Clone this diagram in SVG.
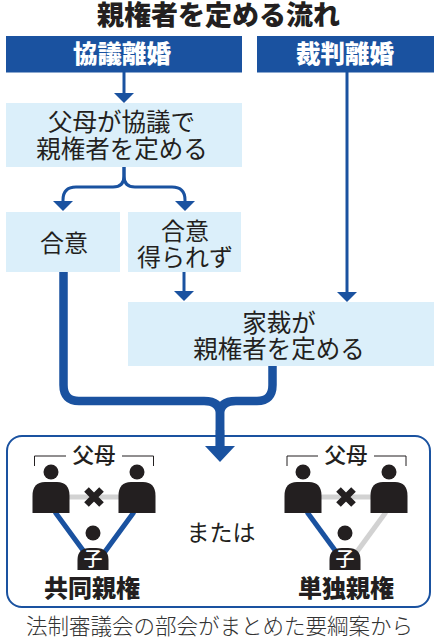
<svg xmlns="http://www.w3.org/2000/svg" width="440" height="640" viewBox="0 0 440 640">
<style>
text{font-family:"Noto Sans CJK JP","Noto Sans CJK SC",sans-serif;text-anchor:middle;fill:#231f20}
.b{fill:#dbeffa}
.h{fill:#1a52a0}
.ht{fill:#fff;font-size:24.500px;font-weight:900}
.t{font-size:24.500px}
.c{fill:none;stroke:#1a52a0;stroke-linejoin:round}
.p{fill:#231f20}
.gl{stroke:#d2d2d2;stroke-width:5;fill:none}
.bl{stroke:#1a52a0;stroke-width:5;fill:none}
.br{stroke:#231f20;stroke-width:1;fill:none}
.x{stroke:#231f20;stroke-width:6.500;fill:none}
.pa{font-size:21.500px;font-weight:500}
.ch{font-size:19px;font-weight:500;fill:#fff}
.nm{font-size:24px;font-weight:900}
</style>
<defs>
<g id="person"><circle cx="0" cy="-45" r="7.500"/><path d="M-18.500 -4V-21Q-18.500 -35-6-35H6Q18.500 -35 18.500 -21V-4Z"/></g>
<g id="child"><circle cx="0" cy="-37" r="7.500"/><path d="M-15.500 0V-10Q-15.500 -22-3-22H3Q15.500 -22 15.500 -10V0Z"/></g>
</defs>
<rect width="440" height="640" fill="#fff"/>
<text x="218.500" y="25" style="font-size:27px;font-weight:900">親権者を定める流れ</text>

<g id="connectors">
<path class="c" stroke-width="3" d="M124 72V96"/>
<path class="h" d="M114 93H134L124 103Z"/>
<path class="c" stroke-width="3" d="M347 72V293"/>
<path class="h" d="M337 292H357L347 302Z"/>
<path class="c" stroke-width="3" d="M124 167V176Q124 187 113 187H76Q63 187 63 200V204"/>
<path class="c" stroke-width="3" d="M124 167V176Q124 187 135 187H172Q185 187 185 200V204"/>
<path class="h" d="M53 201H73L63 211Z"/>
<path class="h" d="M175 201H195L185 211Z"/>
<path class="c" stroke-width="3" d="M184 272V294"/>
<path class="h" d="M174 291H194L184 301Z"/>
<path class="c" stroke-width="8.500" d="M63.500 272V385Q63.500 401 79 401H204Q220 401 220 414V448"/>
<path class="c" stroke-width="8.500" d="M272.500 366V385Q272.500 401 257 401H236Q220 401 220 414V448"/>
</g>

<g id="node-kyogi"><rect class="h" x="6" y="36" width="236" height="36.500"/><text class="ht" x="122" y="63">協議離婚</text></g>
<g id="node-saiban"><rect class="h" x="257" y="36" width="177" height="36.500"/><text class="ht" x="345" y="63">裁判離婚</text></g>
<g id="node-fubo"><rect class="b" x="6" y="103" width="236" height="64"/><text class="t"><tspan x="121.500" y="131">父母が協議で</tspan><tspan x="122" y="158">親権者を定める</tspan></text></g>
<g id="node-goi"><rect class="b" x="6" y="212" width="114" height="60"/><text class="t" x="64" y="252" style="font-size:24px">合意</text></g>
<g id="node-goiezu"><rect class="b" x="128" y="212" width="113" height="60"/><text class="t" style="font-size:24px"><tspan x="185" y="240">合意</tspan><tspan x="185" y="266">得られず</tspan></text></g>
<g id="node-kasai"><rect class="b" x="128" y="302" width="306" height="64"/><text class="t"><tspan x="279" y="332">家裁が</tspan><tspan x="279" y="358">親権者を定める</tspan></text></g>

<g id="node-result">
<rect x="7" y="436" width="423" height="171" rx="15" ry="15" fill="none" stroke="#1a52a0" stroke-width="2"/>
<path class="h" d="M215.750 430H224.250V446H235L220 462L205 446H215.750Z"/>
<text x="221" y="541" style="font-size:23px">または</text>
</g>

<g id="node-kyodo">
<path class="br" d="M34.500 466V456H66M122 456H153.500V466"/>
<text class="pa" x="94" y="463">父母</text>
<path class="gl" d="M60 497H130"/>
<path class="bl" d="M55 512L85 553M134 512L104 553"/>
<g class="p"><use href="#person" x="51" y="517"/><use href="#person" x="137" y="517"/><use href="#child" x="93" y="570"/></g>
<path class="x" d="M86.500 489.500L101.500 504.500M101.500 489.500L86.500 504.500"/>
<text class="ch" x="93" y="566">子</text>
<text class="nm" x="92" y="597">共同親権</text>
</g>

<g id="node-tandoku">
<path class="br" d="M287 466V456H318M374 456H406V466"/>
<text class="pa" x="346" y="463">父母</text>
<path class="gl" d="M312 497H382"/>
<path class="bl" d="M307 512L337 553"/>
<path class="gl" d="M386 512L356 553"/>
<g class="p"><use href="#person" x="303" y="517"/><use href="#person" x="389" y="517"/><use href="#child" x="345" y="570"/></g>
<path class="x" d="M338.500 489.500L353.500 504.500M353.500 489.500L338.500 504.500"/>
<text class="ch" x="345" y="566">子</text>
<text class="nm" x="346" y="597">単独親権</text>
</g>

<text x="219.500" y="634" style="font-size:21.500px;font-weight:300;fill:#333">法制審議会の部会がまとめた要綱案から</text>
</svg>
